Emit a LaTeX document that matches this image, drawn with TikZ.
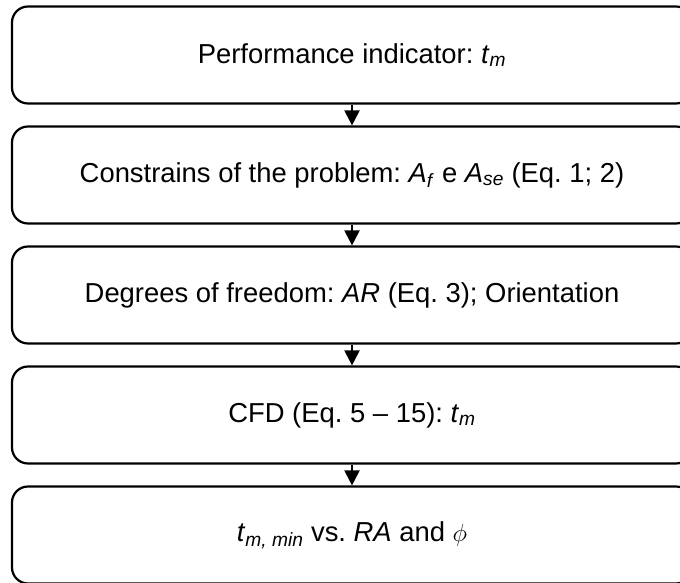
\documentclass[tikz,border=0pt]{standalone}
\usepackage{fontspec}
\setmainfont{Liberation Sans}
\usetikzlibrary{arrows.meta}
\newcommand{\vr}[1]{\textit{#1}}
\newcommand{\sbs}[1]{\textsubscript{\textit{#1}}}
\tikzset{
  stage/.style={draw=black, line width=2.2pt, rounded corners=16pt, minimum width=680pt, minimum height=97pt, inner sep=0pt, font=\fontsize{27.4pt}{32pt}\selectfont, fill=white},
  flow/.style={line width=2.2pt, -{Triangle[width=15pt,length=15pt]}}
}
\begin{document}
\frenchspacing
\begin{tikzpicture}[x=1pt,y=1pt]
\useasboundingbox (0,0) rectangle (680,583);
\clip (0,0) rectangle (680,583);
\fill[white] (0,0) rectangle (680,583);
\node[stage] (s1) at (352,528) {Performance indicator: \vr{t}\sbs{m}};
\node[stage] (s2) at (352,408) {Constrains of the problem: \vr{A}\sbs{f} e \vr{A}\sbs{se} (Eq. 1; 2)};
\node[stage] (s3) at (352,288) {Degrees of freedom: \vr{AR} (Eq. 3); Orientation};
\node[stage] (s4) at (352,168) {CFD (Eq. 5 -- 15): \vr{t}\sbs{m}};
\node[stage] (s5) at (352,48) {\vr{t}\sbs{m, min} vs. \vr{RA} and $\phi$};
\draw[flow] (s1.south) -- (s2.north);
\draw[flow] (s2.south) -- (s3.north);
\draw[flow] (s3.south) -- (s4.north);
\draw[flow] (s4.south) -- (s5.north);
\end{tikzpicture}
\end{document}
